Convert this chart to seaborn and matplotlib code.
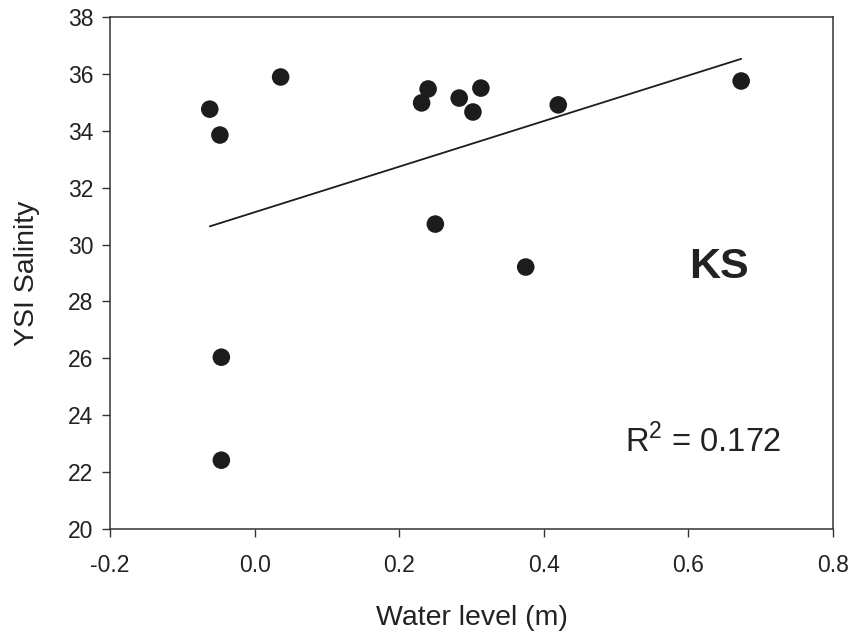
import matplotlib
matplotlib.use("Agg")
import matplotlib.pyplot as plt
import seaborn as sns
import pandas as pd

# Water level (m) and YSI salinity at station KS
water_level = [-0.062, -0.048, 0.036, 0.231, 0.240, 0.283, 0.302, 0.313,
               0.420, 0.673, 0.250, 0.375, -0.046, -0.046]
salinity = [34.76, 33.85, 35.89, 34.98, 35.47, 35.15, 34.66, 35.50,
            34.91, 35.75, 30.72, 29.21, 26.04, 22.42]
r_squared = 0.172
site = "KS"

x_ticks = [-0.2, 0.0, 0.2, 0.4, 0.6, 0.8]
y_ticks = [20, 22, 24, 26, 28, 30, 32, 34, 36, 38]

df = pd.DataFrame({"Water level (m)": water_level, "YSI Salinity": salinity})

sns.set_theme(style="ticks")
plt.rcParams["font.family"] = ["Liberation Sans", "DejaVu Sans"]
plt.rcParams["mathtext.fontset"] = "custom"
plt.rcParams["mathtext.rm"] = "Liberation Sans"

ink = "#222222"

fig = plt.figure(figsize=(8.54, 6.36), dpi=100)
ax = fig.add_axes([0.1288, 0.1682, 0.8466, 0.8051])

sns.regplot(data=df, x="Water level (m)", y="YSI Salinity", ax=ax, ci=None,
            truncate=True,
            scatter_kws=dict(s=160, color="#1c1c1c", edgecolor="none", alpha=1),
            line_kws=dict(color="#1c1c1c", lw=1.3))

ax.set_xlim(-0.2, 0.8)
ax.set_ylim(20, 38)
ax.set_xticks(x_ticks)
ax.set_xticklabels([f"{v:.1f}" for v in x_ticks])
ax.set_yticks(y_ticks)
ax.tick_params(axis="both", direction="out", length=6, width=1, color="#333333",
               labelsize=16.5, labelcolor=ink)
ax.tick_params(axis="x", pad=12)
ax.tick_params(axis="y", pad=6)
for sp in ax.spines.values():
    sp.set_linewidth(1.1)
    sp.set_color("#333333")
    sp.set_visible(True)

ax.set_xlabel("Water level (m)", fontsize=20.5, color=ink, labelpad=20)
ax.set_ylabel("YSI Salinity", fontsize=20.5, color=ink, labelpad=20)

ax.text(0.642, 29.2, site, fontsize=31, fontweight="bold", color=ink,
        ha="center", va="center")
ax.text(0.512, 22.7, f"R$^{{2}}$ = {r_squared:.3f}", fontsize=23.5, color=ink,
        ha="left", va="baseline")

fig.savefig("out.png", dpi=100)
